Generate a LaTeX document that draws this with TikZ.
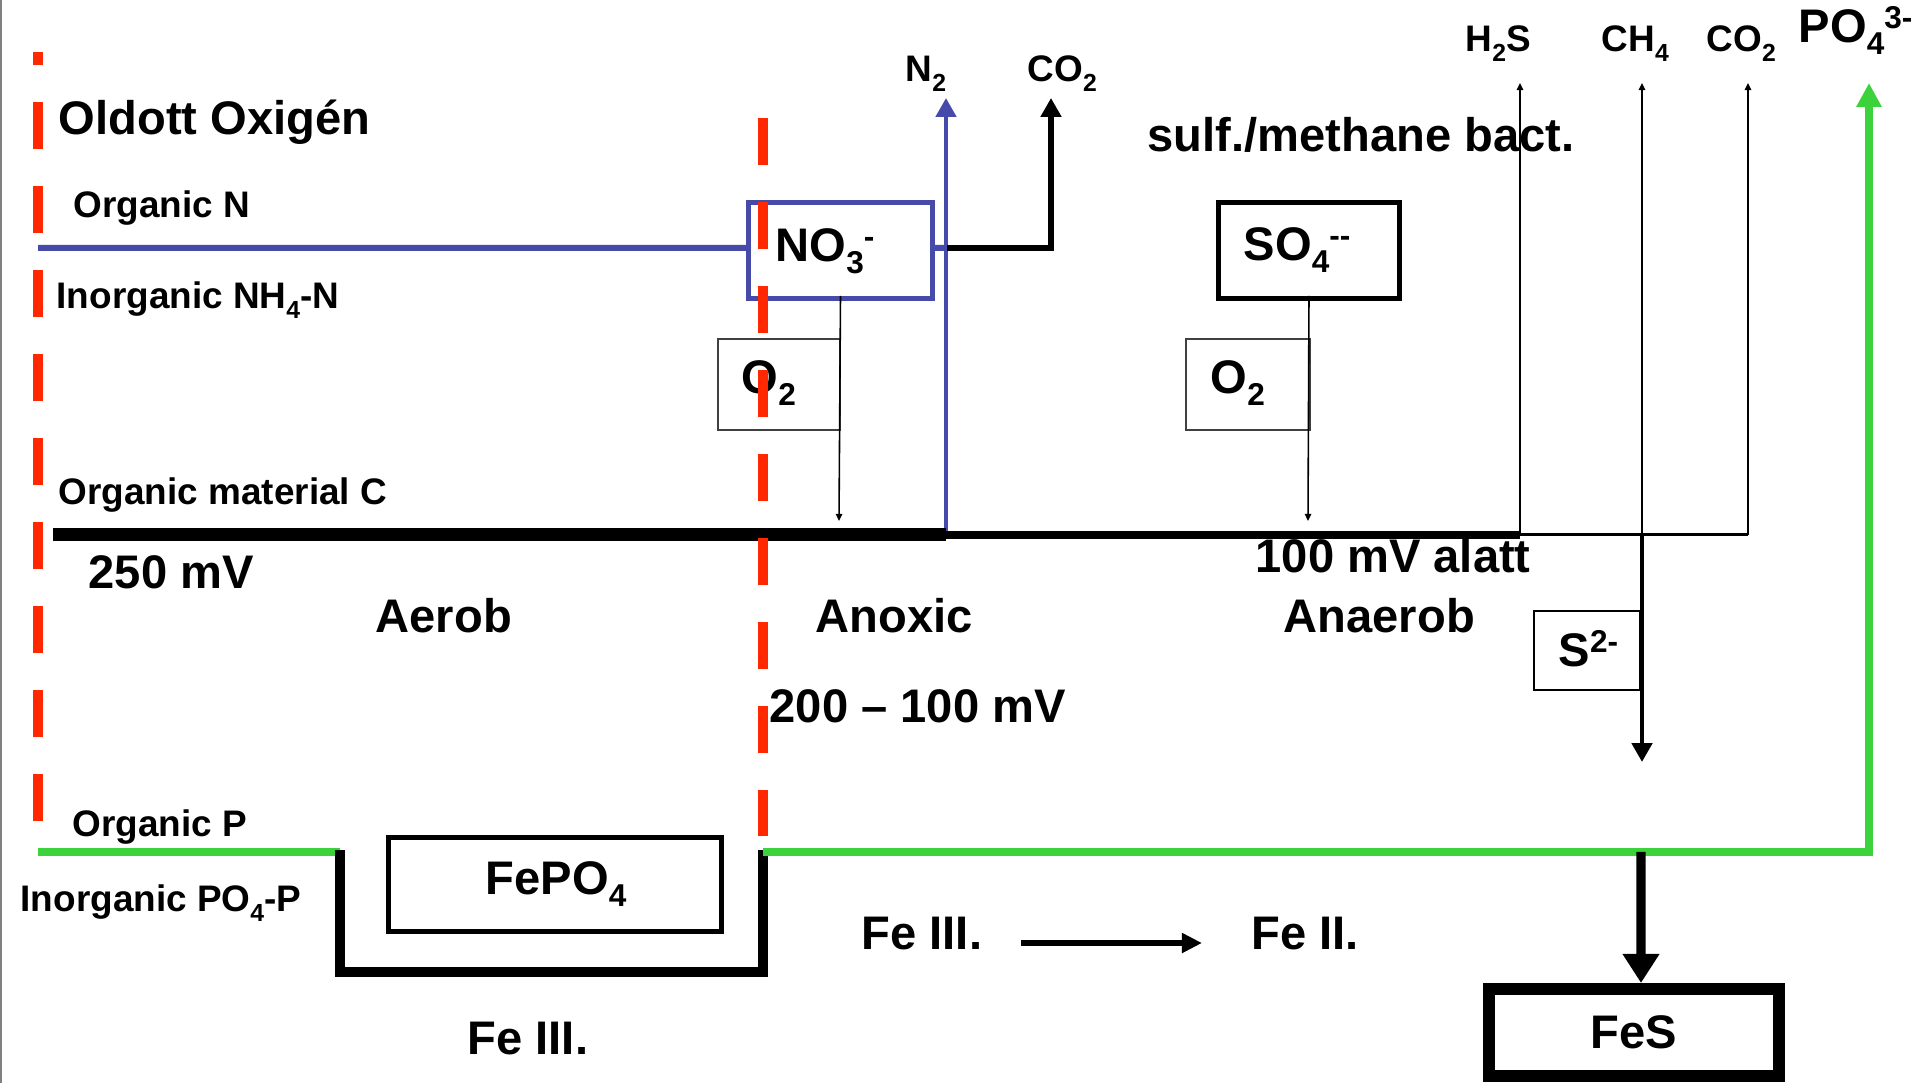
\documentclass[tikz,border=0pt]{standalone}
\usepackage{fontspec}
\setmainfont{Liberation Sans}
\usetikzlibrary{arrows.meta}
\definecolor{redline}{RGB}{255,40,0}
\definecolor{nblue}{RGB}{70,75,170}
\definecolor{pgreen}{RGB}{60,210,60}
\newcommand{\ionlo}[1]{\raisebox{-0.25em}{\scalebox{0.67}{#1}}}
\newcommand{\ionhi}[1]{\raisebox{0.3em}{\scalebox{0.67}{#1}}}

\begin{document}
\begin{tikzpicture}[x=0.01cm,y=-0.01cm,
    bigtxt/.style={font=\fontsize{13.4}{16}\selectfont\bfseries, inner sep=0pt, anchor=base west},
    midtxt/.style={font=\fontsize{10.5}{12}\selectfont\bfseries, inner sep=0pt, anchor=base west},
    ionbox/.style={draw, line width=1.4pt, inner sep=0pt},
    o2box/.style={draw=black!75, line width=0.4pt, inner sep=0pt, minimum height=0.91cm},
    zonedash/.style={redline, line width=3.1pt, dash pattern=on 13.37pt off 10.53pt},
    thinarr/.style={line width=0.45pt, -{Triangle[length=2pt,width=1.8pt]}},
    midarr/.style={line width=1.4pt, -{Triangle[length=5.4pt,width=5.7pt]}}]
    \useasboundingbox (0,0) rectangle (1917,1083);
    \draw[gray, line width=0.6pt] (1,0) -- (1,1083);

    % boxes
    \node[ionbox, draw=nblue, minimum width=1.84cm, minimum height=0.96cm] (no3box) at (840.5,250.5) {};
    \node[ionbox, minimum width=1.81cm, minimum height=0.96cm] (so4box) at (1309,250.5) {};
    \node[o2box, minimum width=1.22cm] (o2boxa) at (779,384.5) {};
    \node[o2box, minimum width=1.24cm] (o2boxb) at (1248,384.5) {};
    \node[draw, line width=0.6pt, inner sep=0pt, minimum width=1.06cm, minimum height=0.79cm] (s2box) at (1587,650.5) {};
    \node[ionbox, minimum width=3.33cm, minimum height=0.94cm] (fepo4box) at (555,884.5) {};
    \node[draw, line width=3.4pt, inner sep=0pt, minimum width=2.9cm, minimum height=0.87cm,
          font=\fontsize{13.4}{16}\selectfont\bfseries] (fesbox) at (1634,1032.5) {FeS};

    % texts
    \node[bigtxt] (oxy) at (58,135) {Oldott Oxigén};
    \node[midtxt] (orgn) at (73,218) {Organic N};
    \node[midtxt] (inorgn) at (56,309) {Inorganic NH\ionlo{4}-N};
    \node[midtxt] (orgc) at (58,505) {Organic material C};
    \node[bigtxt] (mv250) at (88,589) {250 mV};
    \node[bigtxt] (aerob) at (375,633) {Aerob};
    \node[bigtxt] (anoxic) at (815,633) {Anoxic};
    \node[bigtxt] (anaerob) at (1283,633) {Anaerob};
    \node[bigtxt] (mv100) at (1255,573) {100 mV alatt};
    \node[bigtxt] (mv200) at (769,723) {200 -- 100 mV};
    \node[bigtxt] (bact) at (1147,152) {sulf./methane bact.};
    \node[midtxt] (n2) at (905,82) {N\ionlo{2}};
    \node[midtxt] (co2a) at (1027,82) {CO\ionlo{2}};
    \node[midtxt] (h2s) at (1465,52) {H\ionlo{2}S};
    \node[midtxt] (ch4) at (1601,52) {CH\ionlo{4}};
    \node[midtxt] (co2b) at (1706,52) {CO\ionlo{2}};
    \node[bigtxt] (po4) at (1798,43) {PO\ionlo{4}\ionhi{3-}};
    \node[bigtxt] (no3) at (775,262) {NO\ionlo{3}\ionhi{-}};
    \node[bigtxt] (so4) at (1243,261) {SO\ionlo{4}\ionhi{{-}{-}}};
    \node[bigtxt] (o2a) at (741,394) {O\ionlo{2}};
    \node[bigtxt] (o2b) at (1210,394) {O\ionlo{2}};
    \node[bigtxt] (s2) at (1558,667) {S\ionhi{2-}};
    \node[bigtxt] (fepo4) at (485,895) {FePO\ionlo{4}};
    \node[midtxt] (orgp) at (72,837) {Organic P};
    \node[midtxt] (inorgp) at (20,912) {Inorganic PO\ionlo{4}-P};
    \node[bigtxt] (fe3mid) at (861,950) {Fe III.};
    \node[bigtxt] (fe2) at (1251,950) {Fe II.};
    \node[bigtxt] (fe3low) at (467,1055) {Fe III.};

    % nitrogen
    \coordinate (n2foot) at (946,535);
    \draw[nblue, line width=1.7pt] (38,248) -- ([yshift=0.025cm]no3box.west);
    \draw[nblue, line width=1.7pt] ([yshift=0.025cm]no3box.east) -- (946,248);
    \draw[nblue, line width=1.3pt, -{Triangle[length=5.4pt,width=5.7pt]}] (n2foot) -- (946,98);
    \draw[line width=1.7pt, -{Triangle[length=5.4pt,width=5.7pt]}] (947,248) -| (1051,98);
    \draw[thinarr] ([yshift=0.05cm]no3box.south) -- (839,521);
    \draw[thinarr] ([yshift=0.05cm]so4box.south) -- (1308,521);

    % carbon
    \draw[line width=3.7pt] (53,535) -- (n2foot);
    \draw[line width=2pt] (n2foot) -- (1520,535);
    \draw[line width=0.85pt] (1520,535) -- (1748,535);
    \foreach \x in {1520,1642,1748} {\draw[thinarr] (\x,535) -- (\x,83);}
    \draw[midarr] (1642,535) -- (1642,762);

    % phosphorus
    \draw[pgreen, line width=2pt] (38,852) -- (340,852);
    \draw[line width=2.7pt] (340,850) |- (763,972) -- (763,850);
    \draw[pgreen, line width=2pt, -{Triangle[length=6.8pt,width=6.8pt]}] (763,852) -| (1869,83);
    \draw[line width=2.6pt, -{Triangle[length=8.3pt,width=10pt]}] (1641,852) -- ([xshift=0.07cm]fesbox.north);
    \draw[line width=1.7pt, -{Triangle[length=5.7pt,width=5.4pt]}, shorten <=0.38cm, shorten >=0.49cm]
        ([yshift=-0.09cm]fe3mid.east) -- ([yshift=-0.09cm]fe2.west);

    % zone borders
    \draw[zonedash, dash phase=9.67pt] (38,52) -- (38,821);
    \draw[zonedash] (763,118) -- (763,836);
\end{tikzpicture}
\end{document}
